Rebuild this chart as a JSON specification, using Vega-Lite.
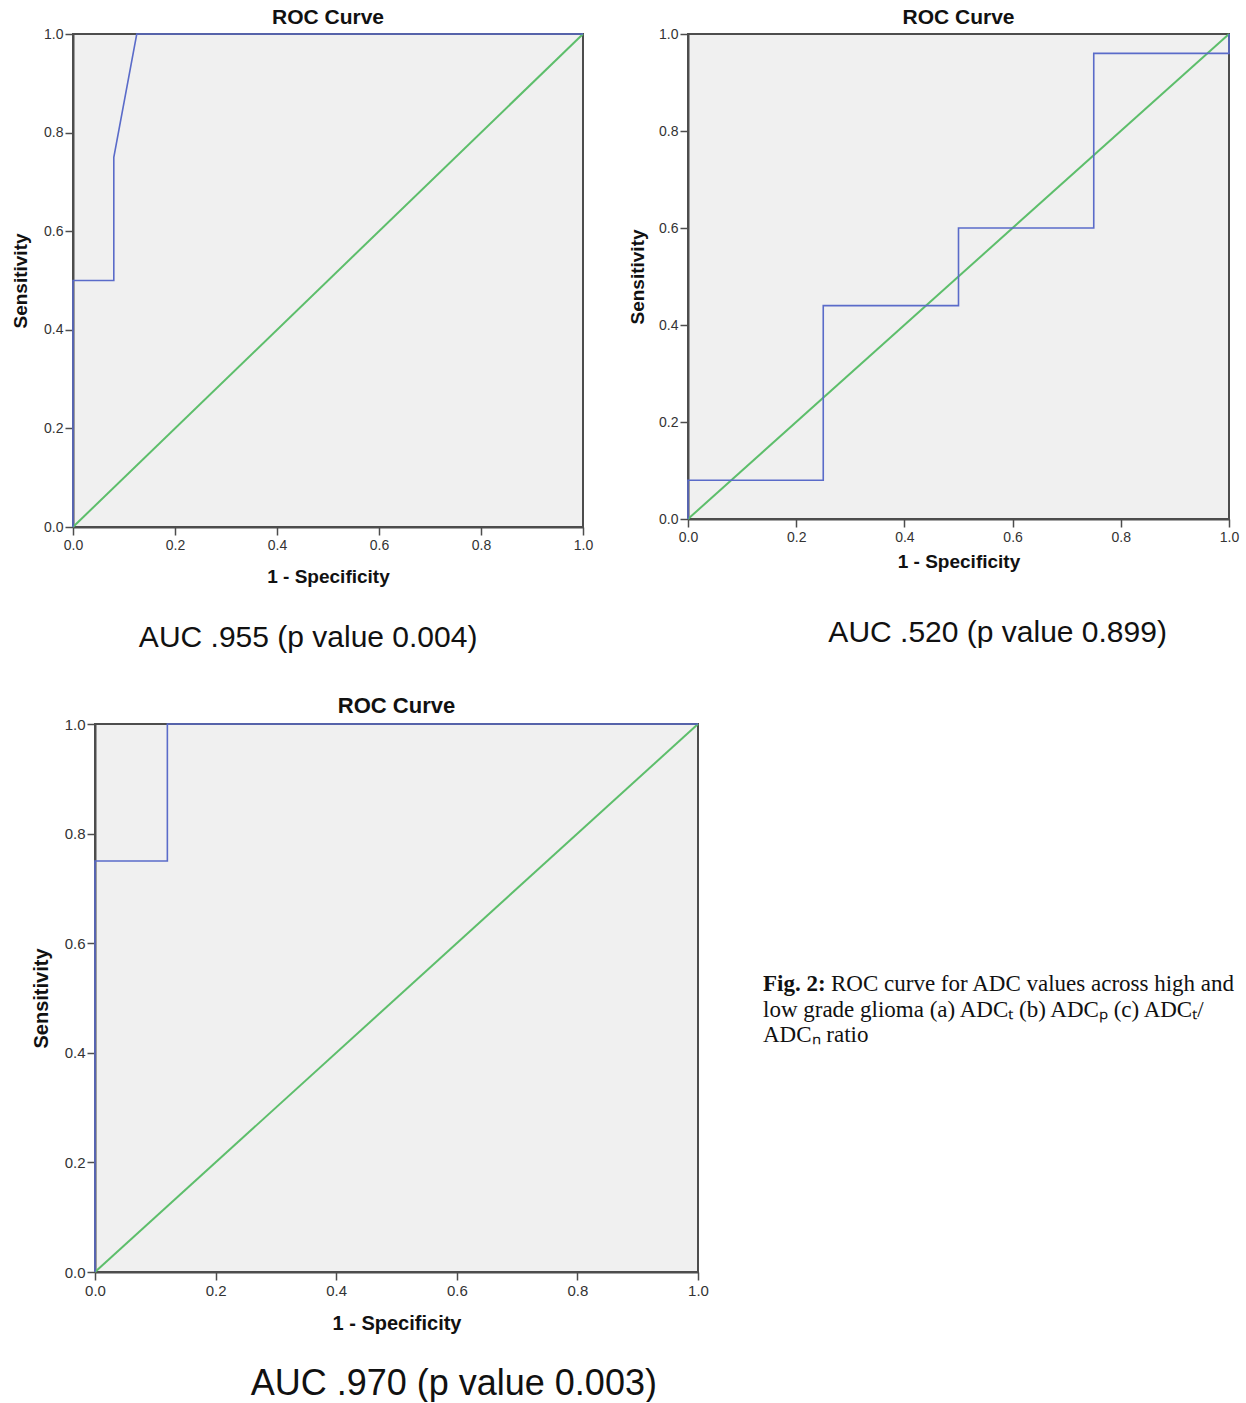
{
  "$schema": "https://vega.github.io/schema/vega-lite/v6.json",
  "padding": {"left": 10, "top": 6, "right": 0, "bottom": 0},
  "background": "white",
  "datasets": {
    "roc_a": [
      {"i": 0, "x": 0, "y": 0},
      {"i": 1, "x": 0, "y": 0.5},
      {"i": 2, "x": 0.08, "y": 0.5},
      {"i": 3, "x": 0.08, "y": 0.75},
      {"i": 4, "x": 0.125, "y": 1},
      {"i": 5, "x": 1, "y": 1}
    ],
    "roc_b": [
      {"i": 0, "x": 0, "y": 0},
      {"i": 1, "x": 0, "y": 0.08},
      {"i": 2, "x": 0.25, "y": 0.08},
      {"i": 3, "x": 0.25, "y": 0.44},
      {"i": 4, "x": 0.5, "y": 0.44},
      {"i": 5, "x": 0.5, "y": 0.6},
      {"i": 6, "x": 0.75, "y": 0.6},
      {"i": 7, "x": 0.75, "y": 0.96},
      {"i": 8, "x": 1, "y": 0.96},
      {"i": 9, "x": 1, "y": 1}
    ],
    "roc_c": [
      {"i": 0, "x": 0, "y": 0},
      {"i": 1, "x": 0, "y": 0.75},
      {"i": 2, "x": 0.12, "y": 0.75},
      {"i": 3, "x": 0.12, "y": 1},
      {"i": 4, "x": 1, "y": 1}
    ],
    "diag": [
      {"i": 0, "x": 0, "y": 0},
      {"i": 1, "x": 1, "y": 1}
    ],
    "caption": [
      {"line": 1, "lead": "Fig. 2:", "text": "ROC curve for ADC values across high and"},
      {"line": 2, "lead": "", "text": "low grade glioma (a) ADCₜ (b) ADCₚ (c) ADCₜ/"},
      {"line": 3, "lead": "", "text": "ADCₙ ratio"}
    ]
  },
  "spacing": 41,
  "vconcat": [
    {
      "spacing": 33,
      "hconcat": [
        {
          "title": {"text": "AUC .955 (p value 0.004)", "orient": "bottom", "anchor": "middle", "fontSize": 30, "fontWeight": "normal", "offset": 36, "dx": 6},
          "vconcat": [
            {
              "width": 510,
              "height": 493,
              "title": {"text": "ROC Curve"},
              "layer": [
                {
                  "data": {"name": "diag"},
                  "mark": {"type": "line", "color": "#5DBE6B", "strokeWidth": 2},
                  "encoding": {
                    "x": {"field": "x", "type": "quantitative", "scale": {"domain": [0, 1], "nice": false}, "axis": {"title": "1 - Specificity", "titlePadding": 15, "values": [0, 0.2, 0.4, 0.6, 0.8, 1]}},
                    "y": {"field": "y", "type": "quantitative", "scale": {"domain": [0, 1], "nice": false}, "axis": {"title": "Sensitivity", "values": [0, 0.2, 0.4, 0.6, 0.8, 1]}},
                    "order": {"field": "i"}
                  }
                },
                {
                  "data": {"name": "roc_a"},
                  "mark": {"type": "line", "color": "#5A6BC9", "strokeWidth": 1.6},
                  "encoding": {
                    "x": {"field": "x", "type": "quantitative"},
                    "y": {"field": "y", "type": "quantitative"},
                    "order": {"field": "i"}
                  }
                }
              ]
            }
          ]
        },
        {
          "title": {"text": "AUC .520 (p value 0.899)", "orient": "bottom", "anchor": "middle", "fontSize": 30, "fontWeight": "normal", "offset": 46, "dx": 64},
          "vconcat": [
            {
              "width": 541,
              "height": 485,
              "title": {"text": "ROC Curve"},
              "layer": [
                {
                  "data": {"name": "diag"},
                  "mark": {"type": "line", "color": "#5DBE6B", "strokeWidth": 2},
                  "encoding": {
                    "x": {"field": "x", "type": "quantitative", "scale": {"domain": [0, 1], "nice": false}, "axis": {"title": "1 - Specificity", "titlePadding": 8, "values": [0, 0.2, 0.4, 0.6, 0.8, 1]}},
                    "y": {"field": "y", "type": "quantitative", "scale": {"domain": [0, 1], "nice": false}, "axis": {"title": "Sensitivity", "titlePadding": 11, "values": [0, 0.2, 0.4, 0.6, 0.8, 1]}},
                    "order": {"field": "i"}
                  }
                },
                {
                  "data": {"name": "roc_b"},
                  "mark": {"type": "line", "color": "#5A6BC9", "strokeWidth": 1.6},
                  "encoding": {
                    "x": {"field": "x", "type": "quantitative"},
                    "y": {"field": "y", "type": "quantitative"},
                    "order": {"field": "i"}
                  }
                }
              ]
            }
          ]
        }
      ]
    },
    {
      "spacing": -44,
      "hconcat": [
        {
          "width": 1,
          "height": 1,
          "view": {"fill": null, "stroke": null},
          "data": {"values": []},
          "mark": "point",
          "encoding": {}
        },
        {
          "spacing": 53,
          "hconcat": [
            {
              "title": {"text": "AUC .970 (p value 0.003)", "orient": "bottom", "anchor": "middle", "fontSize": 36, "fontWeight": "normal", "offset": 33, "dx": 84},
              "vconcat": [
                {
                  "width": 603,
                  "height": 548,
                  "title": {"text": "ROC Curve", "fontSize": 22},
                  "layer": [
                    {
                      "data": {"name": "diag"},
                      "mark": {"type": "line", "color": "#5DBE6B", "strokeWidth": 2},
                      "encoding": {
                        "x": {"field": "x", "type": "quantitative", "scale": {"domain": [0, 1], "nice": false}, "axis": {"title": "1 - Specificity", "titleFontSize": 20, "labelFontSize": 15, "titlePadding": 15, "values": [0, 0.2, 0.4, 0.6, 0.8, 1]}},
                        "y": {"field": "y", "type": "quantitative", "scale": {"domain": [0, 1], "nice": false}, "axis": {"title": "Sensitivity", "titleFontSize": 20, "labelFontSize": 15, "titlePadding": 13, "values": [0, 0.2, 0.4, 0.6, 0.8, 1]}},
                        "order": {"field": "i"}
                      }
                    },
                    {
                      "data": {"name": "roc_c"},
                      "mark": {"type": "line", "color": "#5A6BC9", "strokeWidth": 1.6},
                      "encoding": {
                        "x": {"field": "x", "type": "quantitative"},
                        "y": {"field": "y", "type": "quantitative"},
                        "order": {"field": "i"}
                      }
                    }
                  ]
                }
              ]
            },
            {
              "width": 483,
              "height": 600,
              "view": {"fill": null, "stroke": null},
              "data": {"name": "caption"},
              "encoding": {
                "y": {"field": "line", "type": "ordinal", "scale": {"type": "point", "domain": [1, 2, 3], "range": [260, 311], "padding": 0}, "axis": null},
                "x": {"value": 0}
              },
              "layer": [
                {
                  "transform": [{"filter": "datum.line == 1"}],
                  "mark": {"type": "text", "align": "left", "baseline": "middle", "font": "Liberation Serif", "fontSize": 23, "fontWeight": "bold", "color": "#111"},
                  "encoding": {"text": {"field": "lead"}}
                },
                {
                  "transform": [{"filter": "datum.line == 1"}],
                  "mark": {"type": "text", "align": "left", "baseline": "middle", "font": "Liberation Serif", "fontSize": 23, "color": "#111", "dx": 68},
                  "encoding": {"text": {"field": "text"}}
                },
                {
                  "transform": [{"filter": "datum.line > 1"}],
                  "mark": {"type": "text", "align": "left", "baseline": "middle", "font": "Liberation Serif", "fontSize": 23, "color": "#111"},
                  "encoding": {"text": {"field": "text"}}
                }
              ]
            }
          ]
        }
      ]
    }
  ],
  "config": {
    "font": "Liberation Sans",
    "view": {"fill": "#F0F0F0", "stroke": "#4d4d4d", "strokeWidth": 2},
    "axis": {
      "grid": false,
      "domainColor": "#4d4d4d",
      "domainWidth": 2,
      "tickColor": "#4d4d4d",
      "tickWidth": 1.5,
      "tickSize": 8,
      "labelFont": "Liberation Sans",
      "labelFontSize": 14,
      "labelColor": "#333333",
      "labelPadding": 2,
      "labelFlush": false,
      "titleFont": "Liberation Sans",
      "titleFontSize": 19,
      "titleFontWeight": "bold",
      "titleColor": "#111111",
      "format": ".1f"
    },
    "axisX": {"titlePadding": 12, "labelPadding": 3},
    "axisY": {"titlePadding": 13},
    "title": {"font": "Liberation Sans", "fontSize": 21, "fontWeight": "bold", "color": "#111111", "offset": -1}
  }
}
